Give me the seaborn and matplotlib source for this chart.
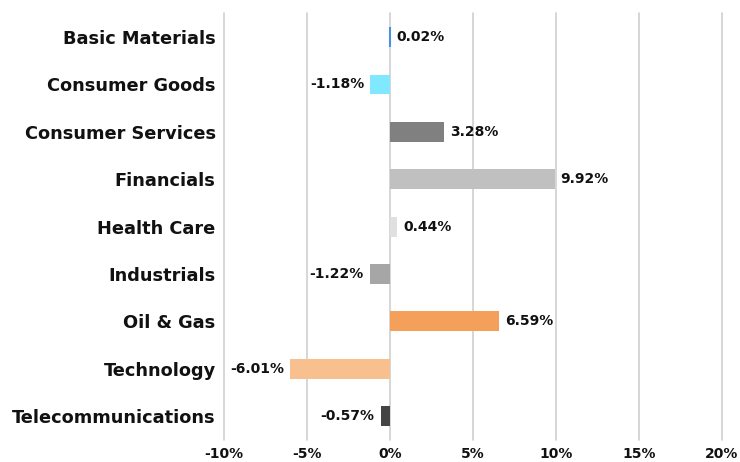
import matplotlib
matplotlib.use("Agg")
import matplotlib.pyplot as plt
import seaborn as sns
import pandas as pd

sectors = ["Basic Materials", "Consumer Goods", "Consumer Services", "Financials",
           "Health Care", "Industrials", "Oil & Gas", "Technology", "Telecommunications"]
values = [0.02, -1.18, 3.28, 9.92, 0.44, -1.22, 6.59, -6.01, -0.57]
colors = ["#4a90e2", "#80e8ff", "#808080", "#c0c0c0", "#e0e0e0", "#a6a6a6",
          "#f5a05a", "#f9c08f", "#444444"]
xticks = [-10, -5, 0, 5, 10, 15, 20]

sns.set_style("white")
plt.rcParams['font.family'] = ['DejaVu Sans']

df = pd.DataFrame({"sector": sectors, "value": values})
fig = plt.figure(figsize=(7.4, 4.62), dpi=100)
ax = fig.add_axes([0.3027, 0.048, 0.6730, 0.923])

sns.barplot(data=df, x="value", y="sector", hue="sector", palette=colors,
            order=sectors, hue_order=sectors, legend=False, width=0.42,
            saturation=1, orient="h", ax=ax, zorder=3, linewidth=0)

ax.set_xlim(-10, 20)
ax.set_xticks(xticks)
ax.set_xticklabels([f"{t}%" for t in xticks], fontsize=10, fontweight="bold")
ax.set_xlabel("")
ax.set_ylabel("")
for lab in ax.get_yticklabels():
    lab.set_fontsize(12.8)
    lab.set_fontweight("bold")
    lab.set_color("#111111")
for lab in ax.get_xticklabels():
    lab.set_color("#111111")
ax.tick_params(axis="y", length=0, pad=6)
ax.tick_params(axis="x", length=0, pad=5)
for s in ax.spines.values():
    s.set_visible(False)
ax.grid(axis="x", color="#d0d0d0", linewidth=1.2, zorder=0)
ax.set_axisbelow(True)
for gl in ax.get_xgridlines():
    gl.set_clip_on(False)

# thin marker for near-zero bar so it stays visible
for p, v, c in zip(ax.patches, values, colors):
    if abs(v) < 0.1:
        p.set_linewidth(1.5)
        p.set_edgecolor(c)

for i, v in enumerate(values):
    if v >= 0:
        ax.text(v + 0.35, i, f"{v:.2f}%", va="center", ha="left",
                fontsize=10, fontweight="bold", color="#111111")
    else:
        ax.text(v - 0.35, i, f"{v:.2f}%", va="center", ha="right",
                fontsize=10, fontweight="bold", color="#111111")

fig.savefig("out.png", dpi=100)
